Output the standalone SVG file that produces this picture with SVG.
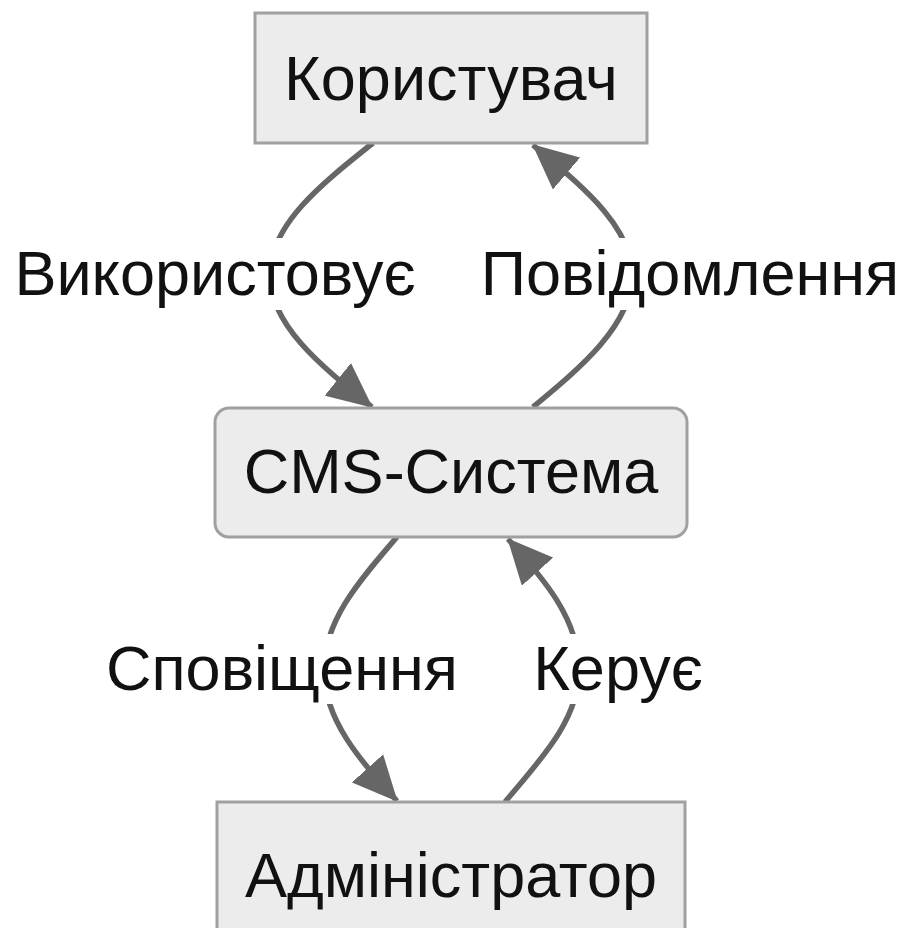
<svg xmlns="http://www.w3.org/2000/svg" width="906" height="928" viewBox="0 0 906 928">
<style>
.node rect{fill:#ececec;stroke:#a0a0a0;stroke-width:3}
.t{font-family:"Liberation Sans",Arial,sans-serif;font-size:63px;fill:#111;text-anchor:middle}
.edge{fill:none;stroke:#666;stroke-width:5.5}
.lbg{fill:#fff}
</style>
<defs>
<marker id="arr" markerUnits="userSpaceOnUse" markerWidth="45" markerHeight="42" refX="44" refY="21" orient="auto">
<path d="M0,0 L45,21 L0,42 z" fill="#666"/>
</marker>
</defs>
<rect width="906" height="928" fill="#fff"/>
<g id="connectors">
<path class="edge" d="M373,143 C320,185 270,225 270,275 C270,325 320,365 372,407" marker-end="url(#arr)"/>
<path class="edge" d="M533,407 C580,368 632,325 632,275 C632,225 580,185 533,145" marker-end="url(#arr)"/>
<path class="edge" d="M397,537 C360,580 324,620 324,670 C324,720 360,760 397,801" marker-end="url(#arr)"/>
<path class="edge" d="M505,802 C540,760 579,720 579,670 C579,620 545,580 508,539" marker-end="url(#arr)"/>
</g>
<g id="labels">
<g id="label-uses"><rect class="lbg" x="10" y="238" width="410" height="72"/><text class="t" x="215" y="295">Використовує</text></g>
<g id="label-notify"><rect class="lbg" x="487" y="238" width="406" height="72"/><text class="t" x="690" y="295">Повідомлення</text></g>
<g id="label-alert"><rect class="lbg" x="110" y="634" width="345" height="70"/><text class="t" x="282" y="690">Сповіщення</text></g>
<g id="label-manage"><rect class="lbg" x="537" y="634" width="163" height="70"/><text class="t" x="618" y="690">Керує</text></g>
</g>
<g id="user" class="node"><rect x="255" y="13" width="392" height="130"/><text class="t" x="451" y="100">Користувач</text></g>
<g id="cms" class="node"><rect x="215" y="408" width="472" height="129" rx="14" ry="14"/><text class="t" x="451" y="493">CMS-Система</text></g>
<g id="admin" class="node"><rect x="217" y="802" width="468" height="140"/><text class="t" x="451" y="897">Адміністратор</text></g>
</svg>
